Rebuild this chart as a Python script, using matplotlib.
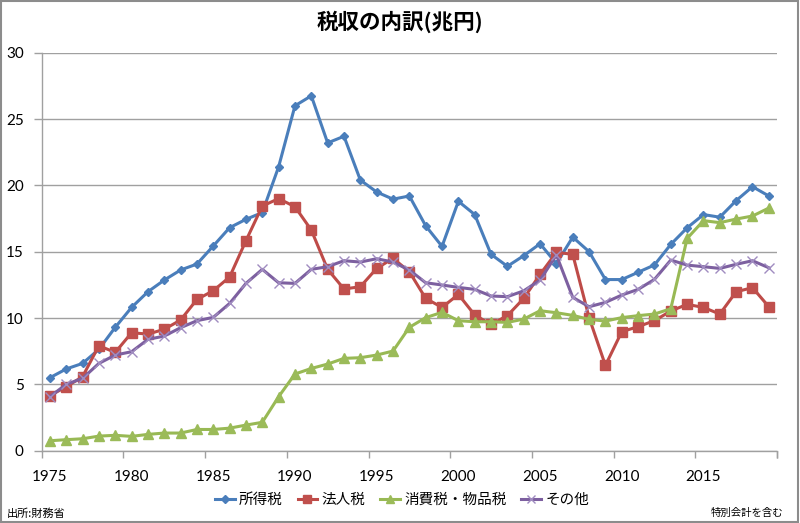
import matplotlib
matplotlib.use("Agg")
import matplotlib.pyplot as plt
from matplotlib.patches import Rectangle
from matplotlib.ticker import FixedLocator, NullFormatter

plt.rcParams['font.family'] = ['Noto Sans CJK JP', 'DejaVu Sans']

years = list(range(1975, 2020))

income_tax = [5.50, 6.16, 6.58, 7.64, 9.30, 10.80, 11.98, 12.86, 13.62, 14.07,
              15.43, 16.81, 17.44, 17.95, 21.40, 26.00, 26.75, 23.20, 23.70, 20.40,
              19.50, 18.96, 19.20, 16.95, 15.40, 18.80, 17.80, 14.80, 13.90, 14.70,
              15.60, 14.10, 16.10, 15.00, 12.90, 12.90, 13.45, 14.00, 15.55, 16.80,
              17.80, 17.60, 18.85, 19.90, 19.20]
corporate_tax = [4.15, 4.82, 5.58, 7.91, 7.41, 8.89, 8.79, 9.15, 9.85, 11.40,
                 12.06, 13.09, 15.83, 18.44, 19.00, 18.39, 16.63, 13.67, 12.19, 12.36,
                 13.74, 14.50, 13.49, 11.48, 10.80, 11.78, 10.23, 9.52, 10.18, 11.48,
                 13.29, 14.95, 14.80, 10.03, 6.43, 8.97, 9.35, 9.80, 10.53, 11.03,
                 10.80, 10.30, 11.98, 12.29, 10.85]
consumption_tax = [0.75, 0.83, 0.90, 1.10, 1.16, 1.08, 1.23, 1.33, 1.33, 1.60,
                   1.60, 1.70, 1.93, 2.14, 4.07, 5.78, 6.20, 6.53, 6.96, 7.01,
                   7.21, 7.51, 9.30, 10.03, 10.43, 9.80, 9.72, 9.72, 9.67, 9.92,
                   10.55, 10.40, 10.20, 9.90, 9.77, 10.03, 10.18, 10.30, 10.70, 16.00,
                   17.34, 17.19, 17.46, 17.69, 18.29]
other_tax = [4.07, 5.00, 5.45, 6.58, 7.21, 7.46, 8.39, 8.64, 9.27, 9.80,
             10.05, 11.10, 12.61, 13.67, 12.66, 12.61, 13.67, 13.87, 14.32, 14.22,
             14.47, 14.22, 13.62, 12.66, 12.49, 12.31, 12.16, 11.66, 11.61, 12.05,
             12.86, 14.75, 11.56, 10.85, 11.18, 11.73, 12.16, 12.91, 14.37, 13.99,
             13.87, 13.74, 14.05, 14.32, 13.79]

series_names = ['所得税', '法人税', '消費税・物品税', 'その他']
y_ticks = [0, 5, 10, 15, 20, 25, 30]
x_label_years = [1975, 1980, 1985, 1990, 1995, 2000, 2005, 2010, 2015]

fig = plt.figure(figsize=(8.0, 5.23), dpi=100)
ax = fig.add_axes([41.7/800, 1 - 450.7/523, (777 - 41.7)/800, (450.7 - 52.7)/523])

idx = list(range(len(years)))
styles = [
    dict(color='#4A7EBB', marker='D', markersize=4.5, mfc='#4A7EBB', mec='#4A7EBB'),
    dict(color='#BE4B48', marker='s', markersize=7, mfc='#C0504D', mec='#C0504D'),
    dict(color='#98B954', marker='^', markersize=7.5, mfc='#9BBB59', mec='#9BBB59'),
    dict(color='#7D60A0', marker='x', markersize=6.5, mfc='#A08CC0', mec='#A08CC0', mew=1.0),
]
for vals, name, st in zip([income_tax, corporate_tax, consumption_tax, other_tax], series_names, styles):
    ax.plot(idx, vals, linewidth=2.2, label=name, zorder=3, **st)

ax.set_xlim(-0.5, len(years) - 0.5)
ax.set_ylim(0, 30)

# y axis
ax.set_yticks(y_ticks)
ax.yaxis.grid(True, color='#A0A0A0', linewidth=1.0)
ax.set_axisbelow(True)
ax.tick_params(axis='y', direction='out', length=6, width=1, color='#A0A0A0',
               pad=7, labelsize=11, labelcolor='#000000')

# x axis: labels at category centres, tick marks between categories
major_pos = [years.index(y) for y in x_label_years]
ax.xaxis.set_major_locator(FixedLocator(major_pos))
ax.set_xticklabels([str(y) for y in x_label_years])
ax.xaxis.set_minor_locator(FixedLocator([p - 0.5 for p in range(0, len(years) + 1, 5)] + [len(years) - 0.5]))
ax.xaxis.set_minor_formatter(NullFormatter())
ax.tick_params(axis='x', which='major', length=0, pad=14, labelsize=11)
ax.tick_params(axis='x', which='minor', direction='out', length=5, width=1, color='#A0A0A0')
for lab in ax.get_xticklabels() + ax.get_yticklabels():
    lab.set_fontfamily(['Lato', 'DejaVu Sans'])

for s in ['top', 'right']:
    ax.spines[s].set_visible(False)
for s in ['left', 'bottom']:
    ax.spines[s].set_color('#A0A0A0')
    ax.spines[s].set_linewidth(1.0)

fig.text(0.5, 1 - 22/523, '税収の内訳(兆円)', ha='center', va='center',
         fontsize=15.5, fontweight='bold')

leg = fig.legend(loc='center', bbox_to_anchor=(402/800, 1 - 500/523), ncol=4,
                 frameon=False, fontsize=10.5, handlelength=1.35, handletextpad=0.3,
                 columnspacing=1.0, markerscale=0.8)

fig.text(7/800, 1 - 514/523, '出所:財務省', ha='left', va='center', fontsize=8)
fig.text(783/800, 1 - 513/523, '特別会計を含む', ha='right', va='center', fontsize=7.5)

fig.patches.append(Rectangle((0.001, 0.002), 0.996, 0.996, transform=fig.transFigure,
                             fill=False, edgecolor='#8C8C8C', linewidth=1.5))

fig.savefig('out.png', dpi=100)
